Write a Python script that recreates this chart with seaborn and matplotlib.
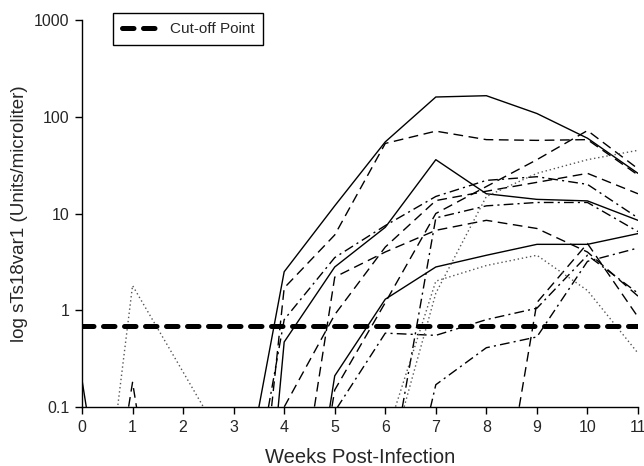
import numpy as np
import pandas as pd
import matplotlib
matplotlib.use("Agg")
import matplotlib.pyplot as plt
import seaborn as sns

weeks = list(range(12))
Z = 1e-4  # below detection (plotted under the 0.1 floor)

s1 = [Z, Z, Z, 0.004, 2.5, 12, 55, 160, 165, 108, 60, 26]
s2 = [0.19, Z, Z, 1e-6, 0.47, 2.8, 7.2, 36, 16, 14, 13.5, 8.5]
s3 = [Z, Z, Z, Z, 1e-4, 0.21, 1.3, 2.8, 3.7, 4.8, 4.8, 6.2]
d1 = [Z, Z, Z, 2e-5, 1.7, 6, 53, 71, 58, 57, 58, 25]
d2 = [Z, Z, Z, Z, Z, 0.15, 1.2, 10, 19, 36, 72, 29]
d3 = [Z, Z, Z, Z, 0.1, 0.9, 4.5, 13.6, 17, 21, 26, 16]
d5 = [Z, Z, Z, Z, 1e-3, 2.2, 4, 6.7, 8.5, 7, 4, 1.4]
d6 = [Z, 0.18, Z, Z, Z, Z, Z, Z, 1e-3, 1.2, 4.9, 0.85]
dd1 = [Z, Z, Z, 1e-3, 0.8, 3.5, 7.5, 15, 22, 24, 20, 9]
dd2 = [Z, Z, Z, Z, Z, 0.09, 0.58, 0.55, 0.8, 1.05, 3.7, 1.5]
dd3 = [Z, Z, Z, Z, Z, Z, 1e-3, 0.17, 0.41, 0.53, 3.2, 4.4]
dd4 = [Z, Z, Z, Z, Z, Z, 0.01, 9, 12, 13, 13, 6.5]
l1 = [Z, Z, Z, Z, Z, Z, 0.047, 2.0, 2.9, 3.7, 1.6, 0.36]
l2 = [1e-4, 1.8, 0.23, 0.029, Z, Z, 0.02, 1.5, 15, 26, 36, 45]

series = {
    "s1": s1, "s2": s2, "s3": s3,
    "d1": d1, "d2": d2, "d3": d3, "d5": d5, "d6": d6,
    "dd1": dd1, "dd2": dd2, "dd3": dd3, "dd4": dd4,
    "l1": l1, "l2": l2,
}
cutoff = 0.68
cutoff_label = "Cut-off Point"

long_dash = (7, 4)
dash_dot = (7, 3, 1.5, 3)
dotted = (1, 2)
dash_map = {}
color_map = {}
for k in series:
    if k.startswith("s"):
        dash_map[k] = ""
        color_map[k] = "black"
    elif k.startswith("dd"):
        dash_map[k] = dash_dot
        color_map[k] = "black"
    elif k.startswith("d"):
        dash_map[k] = long_dash
        color_map[k] = "black"
    else:
        dash_map[k] = dotted
        color_map[k] = "#555555"

df = pd.DataFrame(
    [(k, w, v) for k, vals in series.items() for w, v in zip(weeks, vals)],
    columns=["id", "week", "value"],
)

sns.set_style("white")
plt.rcParams["font.family"] = ["Liberation Sans", "DejaVu Sans"]

fig = plt.figure(figsize=(6.44, 4.66), dpi=100)
ax = fig.add_axes([82 / 644, 1 - 407 / 466, (638 - 82) / 644, (407 - 20) / 466])

sns.lineplot(data=df, x="week", y="value", hue="id", style="id",
             palette=color_map, dashes=dash_map, estimator=None,
             linewidth=1.0, legend=False, ax=ax)

cut_df = pd.DataFrame({"week": [0, 11], "value": [cutoff, cutoff]})
sns.lineplot(data=cut_df, x="week", y="value", color="black",
             linewidth=3.6, ax=ax, label=cutoff_label,
             dashes=False)
line = ax.get_lines()[-1]
line.set_dashes((2.3, 1.9))
line.set_dash_capstyle("round")

ax.set_yscale("log")
ax.set_ylim(0.1, 1000)
ax.set_xlim(0, 11)
ax.set_xticks(weeks)
ax.set_xticklabels([str(w) for w in weeks])
ax.set_yticks([0.1, 1, 10, 100, 1000])
ax.set_yticklabels(["0.1", "1", "10", "100", "1000"])
ax.yaxis.set_minor_locator(matplotlib.ticker.NullLocator())

for sp in ["top", "right"]:
    ax.spines[sp].set_visible(False)
for sp in ["left", "bottom"]:
    ax.spines[sp].set_color("black")
    ax.spines[sp].set_linewidth(1.0)
ax.tick_params(axis="both", which="major", direction="out", length=5,
               width=1, color="black", labelsize=11.5, pad=4,
               left=True, bottom=True)

ax.set_xlabel("Weeks Post-Infection", fontsize=14.5, labelpad=10)
ax.set_ylabel("log sTs18var1 (Units/microliter)", fontsize=13.5, labelpad=4)

leg = ax.legend(loc="upper left", bbox_to_anchor=(113 / 644, 1 - 13 / 466),
                bbox_transform=fig.transFigure, frameon=True, fancybox=False,
                edgecolor="black", fontsize=11, handlelength=2.6,
                borderpad=0.6, borderaxespad=0, handletextpad=0.5,
                framealpha=1)
leg.get_frame().set_linewidth(1.0)

fig.savefig("out.png", dpi=100)
